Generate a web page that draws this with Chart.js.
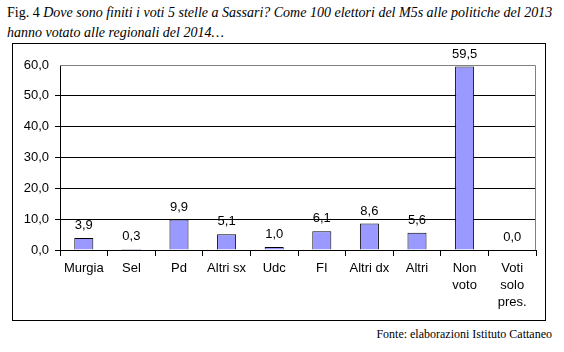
<!DOCTYPE html>
<html lang="it">
<head>
<meta charset="UTF-8" />
<script src="https://cdn.jsdelivr.net/npm/chart.js"></script>
<title>Fig. 4 Sassari</title>
<style>
  body { margin: 0; background: #fff; }
  #wrap { position: relative; width: 564px; height: 352px; overflow: hidden; }
  #title { position: absolute; left: 7px; top: 3px; font-family: "Liberation Serif", "Times New Roman", serif; font-size: 14px; line-height: 20px; color: #000; white-space: nowrap; }
  #box { position: absolute; left: 12px; top: 43px; width: 532px; height: 276px; border: 1px solid #000; }
  #source { position: absolute; right: 12px; top: 327px; font-family: "Liberation Serif", "Times New Roman", serif; font-size: 12px; color: #000; }
  canvas { position: absolute; left: 0; top: 0; }
</style>
</head>
<body>
<div id="wrap">
  <div id="title">Fig. 4 <i>Dove sono finiti i voti 5 stelle a Sassari? Come 100 elettori del M5s alle politiche del 2013</i><br><i>hanno votato alle regionali del 2014…</i></div>
  <div id="box"></div>
  <div id="source">Fonte: elaborazioni Istituto Cattaneo</div>
  <canvas id="chart" width="564" height="352"></canvas>
</div>

<script>
  // categorie e valori (%)
  const categories = ['Murgia', 'Sel', 'Pd', 'Altri sx', 'Udc', 'FI', 'Altri dx', 'Altri', ['Non', 'voto'], ['Voti', 'solo', 'pres.']];
  const values = [3.9, 0.3, 9.9, 5.1, 1.0, 6.1, 8.6, 5.6, 59.5, 0.0];
  const yTicks = [0, 10, 20, 30, 40, 50, 60];

  const fmt = v => v.toFixed(1).replace('.', ',');

  // etichette sopra le barre
  const valueLabels = {
    id: 'valueLabels',
    afterDatasetsDraw(chart) {
      const ctx = chart.ctx;
      const meta = chart.getDatasetMeta(0);
      ctx.save();
      ctx.font = '13px Arial, "Liberation Sans", sans-serif';
      ctx.fillStyle = '#000';
      ctx.textAlign = 'center';
      ctx.textBaseline = 'bottom';
      meta.data.forEach((bar, i) => {
        ctx.fillText(fmt(values[i]), bar.x, bar.y - 6);
      });
      ctx.restore();
    }
  };

  // bordo grigio in alto e a destra dell'area del grafico
  const plotBorder = {
    id: 'plotBorder',
    beforeDatasetsDraw(chart) {
      const a = chart.chartArea;
      const ctx = chart.ctx;
      ctx.save();
      ctx.strokeStyle = '#808080';
      ctx.lineWidth = 1;
      ctx.beginPath();
      ctx.moveTo(a.left, a.top + 0.5);
      ctx.lineTo(a.right - 0.5, a.top + 0.5);
      ctx.lineTo(a.right - 0.5, a.bottom);
      ctx.stroke();
      ctx.restore();
    }
  };

  new Chart(document.getElementById('chart'), {
    type: 'bar',
    data: {
      labels: categories,
      datasets: [{
        data: values,
        backgroundColor: '#9999FF',
        borderColor: '#000',
        borderWidth: 1,
        barPercentage: 0.4,
        categoryPercentage: 1
      }]
    },
    options: {
      responsive: false,
      animation: false,
      layout: { padding: { left: 12, top: 65, right: 28, bottom: 40 } },
      plugins: { legend: { display: false }, tooltip: { enabled: false } },
      scales: {
        x: {
          afterFit: s => { s.height = 62; },
          grid: { offset: true, drawOnChartArea: false, color: '#000', tickLength: 6 },
          border: { color: '#000' },
          ticks: { color: '#000', font: { family: 'Arial, "Liberation Sans", sans-serif', size: 13, lineHeight: 1.3 }, padding: 4, maxRotation: 0, autoSkip: false }
        },
        y: {
          min: 0,
          max: 60,
          afterFit: s => { s.width = 48; },
          afterBuildTicks: s => { s.ticks = yTicks.map(v => ({ value: v })); },
          grid: { color: ctx => ctx.tick && ctx.tick.value === 60 ? 'rgba(0,0,0,0)' : '#000', tickLength: 5 },
          border: { color: '#000' },
          ticks: { color: '#000', font: { family: 'Arial, "Liberation Sans", sans-serif', size: 13 }, padding: 6, callback: v => fmt(v) }
        }
      }
    },
    plugins: [valueLabels, plotBorder]
  });
</script>
</body>
</html>
